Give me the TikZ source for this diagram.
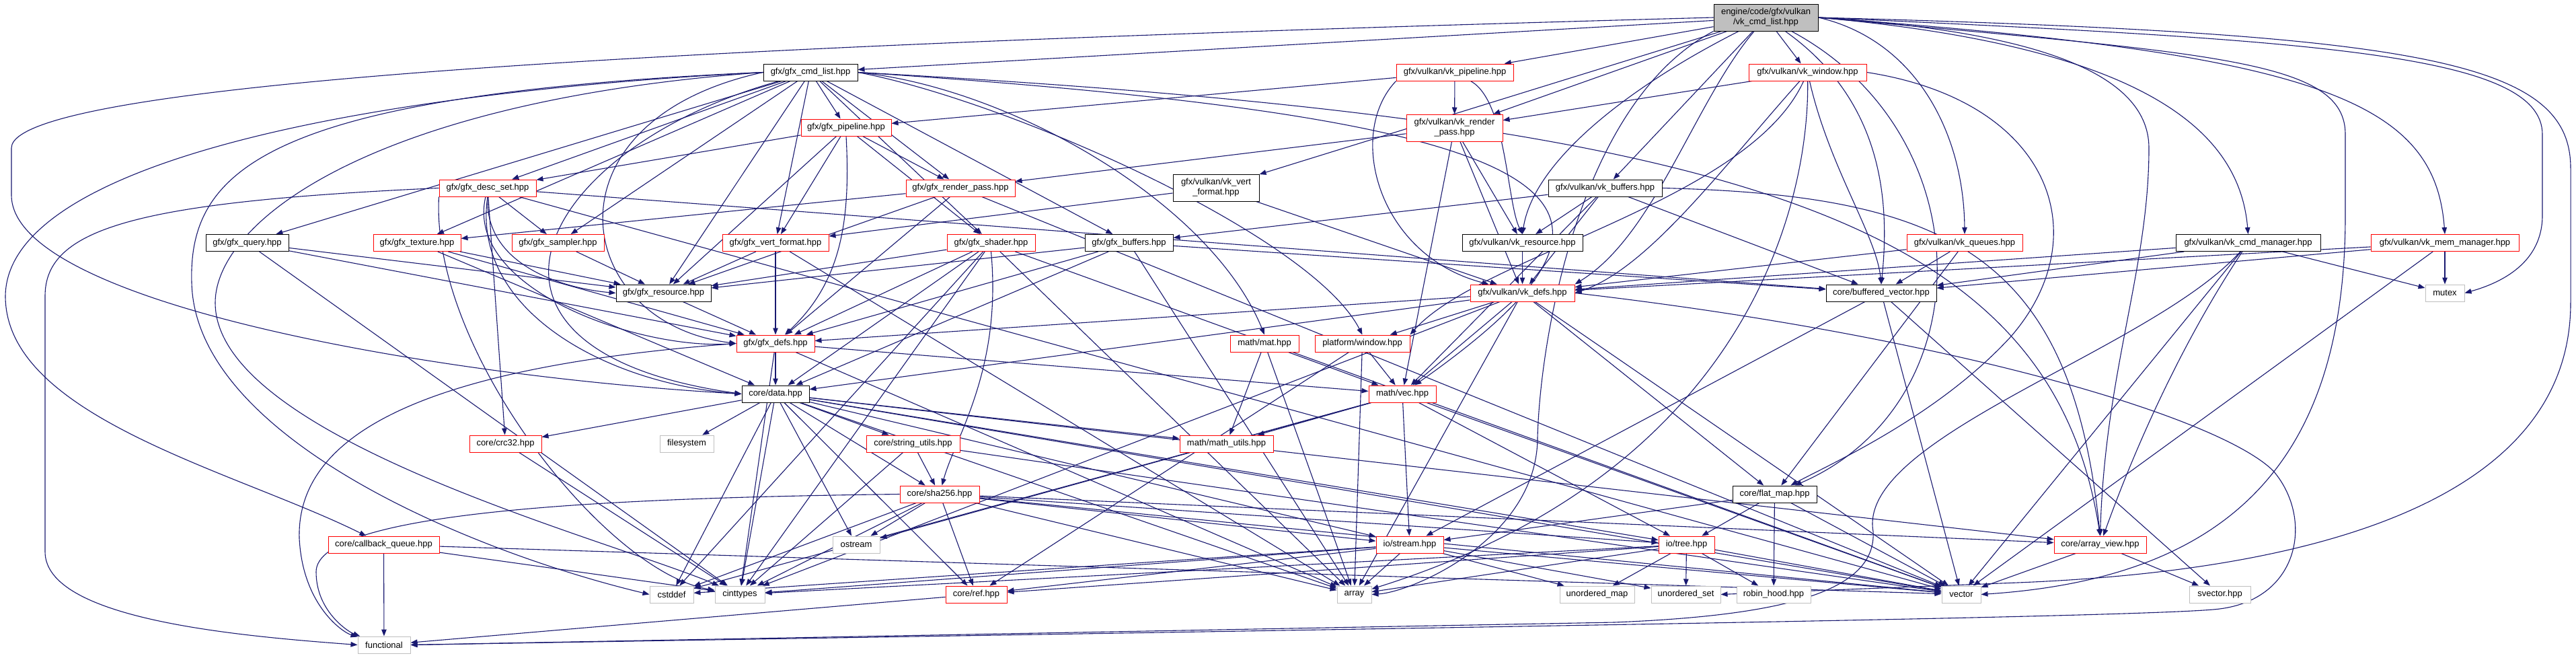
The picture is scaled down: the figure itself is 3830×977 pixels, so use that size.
\documentclass[tikz,border=0pt]{standalone}
\usepackage{fontspec}
\setmainfont{Liberation Sans}
\usetikzlibrary{arrows.meta}
\pgfdeclarelayer{bg}
\pgfsetlayers{bg,main}
\definecolor{edgec}{HTML}{191970}
\definecolor{sysgray}{HTML}{BFBFBF}
\definecolor{trunc}{HTML}{FF0000}
\begin{document}
\begin{tikzpicture}[x=1pt,y=-1pt,
 nb/.style={rectangle, inner sep=0pt, minimum height=25pt, fill=white, line width=1pt, align=center, font=\fontsize{13}{15}\selectfont},
 blk/.style={nb, draw=black},
 rd/.style={nb, draw=trunc},
 sys/.style={nb, draw=sysgray},
 rt/.style={nb, draw=black, fill=sysgray, minimum height=40pt},
 e/.style={draw=edgec, line width=1.1pt, -{Triangle[length=10pt,width=7.5pt]}},
]
\useasboundingbox (0,0) rectangle (3830,977);
% ---------------- nodes ----------------
\node[rt, minimum width=155pt] (root) at (2625.5,26) {engine/code/gfx/vulkan\\/vk\_cmd\_list.hpp};
\node[blk, minimum width=140pt] (cmd) at (1205,107.5) {gfx/gfx\_cmd\_list.hpp};
\node[rd, minimum width=174pt] (vkpipe) at (2163,107.5) {gfx/vulkan/vk\_pipeline.hpp};
\node[rd, minimum width=175pt] (vkwin) at (2687.5,107.5) {gfx/vulkan/vk\_window.hpp};
\node[rd, minimum width=134pt] (gpipe) at (1258,189.5) {gfx/gfx\_pipeline.hpp};
\node[rd, minimum width=143pt, minimum height=40pt] (vkrp) at (2162.5,190) {gfx/vulkan/vk\_render\\\_pass.hpp};
\node[rd, minimum width=144pt] (dset) at (725,279.5) {gfx/gfx\_desc\_set.hpp};
\node[rd, minimum width=162pt] (grp) at (1428,279.5) {gfx/gfx\_render\_pass.hpp};
\node[blk, minimum width=128pt, minimum height=40pt] (vkvf) at (1808,279) {gfx/vulkan/vk\_vert\\\_format.hpp};
\node[blk, minimum width=169pt] (vkbuf) at (2386.5,279.5) {gfx/vulkan/vk\_buffers.hpp};
\node[blk, minimum width=123pt] (query) at (367.5,361) {gfx/gfx\_query.hpp};
\node[rd, minimum width=130pt] (tex) at (620,361) {gfx/gfx\_texture.hpp};
\node[rd, minimum width=137pt] (samp) at (829.5,361) {gfx/gfx\_sampler.hpp};
\node[rd, minimum width=158pt] (gvf) at (1153,361) {gfx/gfx\_vert\_format.hpp};
\node[rd, minimum width=131pt] (shader) at (1473.5,361) {gfx/gfx\_shader.hpp};
\node[blk, minimum width=131pt] (gbuf) at (1678.5,361) {gfx/gfx\_buffers.hpp};
\node[blk, minimum width=179pt] (vkres) at (2263.5,361) {gfx/vulkan/vk\_resource.hpp};
\node[rd, minimum width=172pt] (vkq) at (2921,361) {gfx/vulkan/vk\_queues.hpp};
\node[blk, minimum width=215pt] (vkcm) at (3342.5,361) {gfx/vulkan/vk\_cmd\_manager.hpp};
\node[rd, minimum width=220pt] (vkmm) at (3635,361) {gfx/vulkan/vk\_mem\_manager.hpp};
\node[blk, minimum width=141pt] (gres) at (986.5,435.5) {gfx/gfx\_resource.hpp};
\node[rd, minimum width=155pt] (vkdefs) at (2263.5,435.5) {gfx/vulkan/vk\_defs.hpp};
\node[blk, minimum width=164pt] (bvec) at (2797,435.5) {core/buffered\_vector.hpp};
\node[sys, minimum width=58pt] (mutex) at (3635,435.5) {mutex};
\node[rd, minimum width=116pt] (gdefs) at (1153,510.5) {gfx/gfx\_defs.hpp};
\node[rd, minimum width=141pt] (pwin) at (2025.5,510.5) {platform/window.hpp};
\node[rd, minimum width=102pt] (mat) at (1880,510.5) {math/mat.hpp};
\node[blk, minimum width=100pt] (data) at (1153,585.5) {core/data.hpp};
\node[rd, minimum width=100pt] (vec) at (2085,585.5) {math/vec.hpp};
\node[rd, minimum width=107pt] (crc) at (751.5,659.5) {core/crc32.hpp};
\node[sys, minimum width=80pt] (fs) at (1021,659.5) {filesystem};
\node[rd, minimum width=139pt] (strutil) at (1357.5,659.5) {core/string\_utils.hpp};
\node[rd, minimum width=139pt] (mutil) at (1823.5,659.5) {math/math\_utils.hpp};
\node[rd, minimum width=118pt] (sha) at (1397,734.5) {core/sha256.hpp};
\node[blk, minimum width=125pt] (fmap) at (2638.5,734.5) {core/flat\_map.hpp};
\node[sys, minimum width=70pt] (ostream) at (1273,809.5) {ostream};
\node[rd, minimum width=165pt] (cbq) at (570.5,809.5) {core/callback\_queue.hpp};
\node[rd, minimum width=100pt] (stream) at (2096,809.5) {io/stream.hpp};
\node[rd, minimum width=83pt] (tree) at (2507.5,809.5) {io/tree.hpp};
\node[rd, minimum width=137pt] (aview) at (3122.5,809.5) {core/array\_view.hpp};
\node[sys, minimum width=65pt] (cstddef) at (998.5,883.5) {cstddef};
\node[sys, minimum width=74pt] (cint) at (1100,883.5) {cinttypes};
\node[rd, minimum width=91pt] (ref) at (1451.5,883.5) {core/ref.hpp};
\node[sys, minimum width=51pt] (array) at (2013.5,883.5) {array};
\node[sys, minimum width=111pt] (umap) at (2374.5,883.5) {unordered\_map};
\node[sys, minimum width=103pt] (uset) at (2506.5,883.5) {unordered\_set};
\node[sys, minimum width=110pt] (robin) at (2637,883.5) {robin\_hood.hpp};
\node[sys, minimum width=58pt] (vector) at (2916,883.5) {vector};
\node[sys, minimum width=91pt] (svector) at (3300.5,883.5) {svector.hpp};
\node[sys, minimum width=78pt] (functional) at (571,958.5) {functional};
% ---------------- edges ----------------
\begin{pgfonlayer}{bg}
\fill[white] (0,0) rectangle (3830,977);
% root
\foreach \t in {cmd,vkpipe,vkwin,vkrp,vkvf,vkbuf} \draw[e] (root) -- (\t);
\draw[e] (root) .. controls (2420,130) and (2280,240) .. (vkres.north);
\draw[e] (root) .. controls (2520,150) and (2460,350) .. (vkdefs.north east);
\draw[e] (root.east) .. controls (2850,60) and (2920,200) .. (vkq.north);
\draw[e] (root.east) .. controls (3200,70) and (3330,200) .. (vkcm.north);
\draw[e] (root.east) .. controls (3450,80) and (3620,150) .. (vkmm.north);
\draw[e] (root) .. controls (2800,150) and (2810,300) .. (bvec.north);
\draw[e] (root.east) .. controls (3000,45) and (3195,100) .. (3195,220) .. controls (3195,400) and (3130,550) .. (aview.north);
\draw[e] (root.east) .. controls (3450,60) and (3780,80) .. (3780,200) -- (3780,320) .. controls (3780,390) and (3720,420) .. (mutex.east);
\draw[e] (root.east) .. controls (3300,80) and (3487,90) .. (3487,200) -- (3487,320) .. controls (3487,700) and (3300,860) .. (vector.east);
\draw[e] (root.east) .. controls (3600,50) and (3822,90) .. (3822,250) -- (3822,450) .. controls (3822,760) and (3400,850) .. (3000,866) -- (uset.east);
\draw[e] (root.west) .. controls (1300,60) and (17,110) .. (17,220) -- (17,290) .. controls (17,450) and (650,560) .. (data.west);
\draw[e] (root.south west) .. controls (2350,150) and (2290,500) .. (2286,650) .. controls (2286,800) and (2100,880) .. (array.east);
\draw[e] (root) .. controls (2950,200) and (2950,600) .. (fmap);
% gfx_cmd_list
\foreach \t in {gpipe,dset,grp,samp,gres,gvf,shader,gbuf,query,tex} \draw[e] (cmd) -- (\t);
\draw[e] (cmd.west) .. controls (800,180) and (850,480) .. (gdefs.west);
\draw[e] (cmd.west) .. controls (500,140) and (10,250) .. (8,440) .. controls (8,620) and (350,700) .. (cbq);
\draw[e] (cmd.west) .. controls (400,140) and (280,250) .. (285,420) .. controls (290,650) and (700,820) .. (cstddef.west);
\draw[e] (cmd.west) .. controls (550,150) and (320,330) .. (320,450) .. controls (320,650) and (900,800) .. (cint);
\draw[e] (cmd) .. controls (800,220) and (640,520) .. (data.west);
\draw[e] (cmd.east) .. controls (1500,130) and (1800,300) .. (mat.north);
\draw[e] (cmd.east) .. controls (1500,150) and (1950,350) .. (pwin.north);
\draw[e] (cmd.east) .. controls (2380,180) and (2490,300) .. (vec);
\draw[e] (cmd.east) .. controls (2600,180) and (3050,330) .. (aview.north);
% vk_pipeline
\draw[e] (vkpipe) -- (gpipe);
\draw[e] (vkpipe) -- (vkrp);
\draw[e] (vkpipe) .. controls (2240,150) and (2240,300) .. (vkres.north);
\draw[e] (vkpipe.south west) .. controls (2000,200) and (2050,380) .. (vkdefs);
% vk_window
\draw[e] (vkwin) -- (vkrp);
\draw[e] (vkwin) .. controls (2600,300) and (2200,380) .. (pwin.north east);
\draw[e] (vkwin) .. controls (2560,250) and (2450,400) .. (vkdefs.east);
\draw[e] (vkwin) .. controls (2720,250) and (2790,350) .. (bvec.north);
\draw[e] (vkwin.east) .. controls (3050,150) and (3120,350) .. (2990,500) .. controls (2880,620) and (2720,690) .. (fmap);
\draw[e] (vkwin) .. controls (2690,300) and (2600,700) .. (array);
% gfx_pipeline
\foreach \t in {dset,grp,gvf,shader,gres} \draw[e] (gpipe) -- (\t);
\draw[e] (gpipe.south) .. controls (1265,330) and (1250,420) .. (gdefs);
% vk_render_pass
\foreach \t in {grp,vkres,vkdefs,vec} \draw[e] (vkrp) -- (\t);
% desc_set
\foreach \t in {samp,crc,bvec,vector} \draw[e] (dset) -- (\t);
\draw[e] (dset.south) .. controls (720,400) and (850,430) .. (gres.west);
\draw[e] (dset) .. controls (690,430) and (950,520) .. (gdefs.west);
\draw[e] (dset.south) .. controls (700,460) and (900,570) .. (data.west);
\draw[e] (dset.south west) .. controls (640,520) and (900,850) .. (cint);
\draw[e] (dset.west) .. controls (200,300) and (67,340) .. (67,440) -- (67,820) .. controls (67,920) and (350,945) .. (functional.west);
% render pass
\foreach \t in {tex,gres,gdefs,vector} \draw[e] (grp) -- (\t);
\foreach \t in {gvf,vkdefs} \draw[e] (vkvf) -- (\t);
\foreach \t in {gbuf,vkres,vkdefs,bvec,vec} \draw[e] (vkbuf) -- (\t);
\draw[e] (vkbuf.east) .. controls (2900,290) and (3080,380) .. (aview.north);
\foreach \t in {gres,gdefs,cint} \draw[e] (query) -- (\t);
\foreach \t in {gres,gdefs,data} \draw[e] (tex) -- (\t);
\draw[e] (samp) -- (gres);
\foreach \t in {gres,gdefs,array} \draw[e] (gvf) -- (\t);
\foreach \t in {gres,gdefs,data,array,cint,cstddef,vector} \draw[e] (shader) -- (\t);
\draw[e] (shader.south) .. controls (1490,550) and (1420,650) .. (sha);
\foreach \t in {gres,gdefs,data,bvec,array} \draw[e] (gbuf) -- (\t);
\draw[e] (vkres) -- (vkdefs);
\foreach \t in {vkdefs,bvec,fmap} \draw[e] (vkq) -- (\t);
\foreach \t in {vkdefs,bvec,mutex,vector} \draw[e] (vkcm) -- (\t);
\draw[e] (vkcm) .. controls (3250,500) and (3180,650) .. (aview);
\draw[e] (vkcm) .. controls (3200,520) and (2760,650) .. (2785,790) .. controls (2790,880) and (2650,915) .. (2400,925) -- (functional.east);
\foreach \t in {vkdefs,mutex,vector,bvec} \draw[e] (vkmm) -- (\t);
\draw[e] (gres) -- (gdefs);
\foreach \t in {gdefs,pwin,vec,data,fmap,array,vector,cint} \draw[e] (vkdefs) -- (\t);
\draw[e] (vkdefs.east) .. controls (2900,500) and (3300,620) .. (3380,700) .. controls (3440,770) and (3420,890) .. (3300,905) .. controls (3200,918) and (2000,935) .. (functional.east);
\foreach \t in {svector,vector,stream} \draw[e] (bvec) -- (\t);
\foreach \t in {data,vec,array,cint} \draw[e] (gdefs) -- (\t);
\draw[e] (gdefs.west) .. controls (700,540) and (440,620) .. (445,800) .. controls (450,900) and (510,940) .. (functional);
\foreach \t in {vec,array,ref} \draw[e] (pwin) -- (\t);
\foreach \t in {vec,mutil,array} \draw[e] (mat) -- (\t);
\foreach \t in {crc,fs,strutil,mutil,sha,cstddef,cint,ostream,array,ref,stream,tree,vector,aview} \draw[e] (data) -- (\t);
\foreach \t in {mutil,stream,tree,ostream,cstddef,vector} \draw[e] (vec) -- (\t);
\draw[e] (crc) -- (cint);
\foreach \t in {sha,cint,vector} \draw[e] (strutil) -- (\t);
\foreach \t in {ostream,ref,array,cint,cstddef,stream,tree,aview,vector} \draw[e] (sha) -- (\t);
\draw[e] (sha.west) .. controls (900,740) and (470,760) .. (470,850) .. controls (470,910) and (520,940) .. (functional);
\foreach \t in {robin,vector,stream,tree} \draw[e] (fmap) -- (\t);
\foreach \t in {robin,uset,umap,vector,array,cint,ref} \draw[e] (tree) -- (\t);
\foreach \t in {array,umap,uset,vector,ref,cint,cstddef} \draw[e] (stream) -- (\t);
\foreach \t in {vector,svector} \draw[e] (aview) -- (\t);
\foreach \t in {functional,vector,cint} \draw[e] (cbq) -- (\t);
\draw[e] (ref) -- (functional);
\end{pgfonlayer}
\end{tikzpicture}
\end{document}
